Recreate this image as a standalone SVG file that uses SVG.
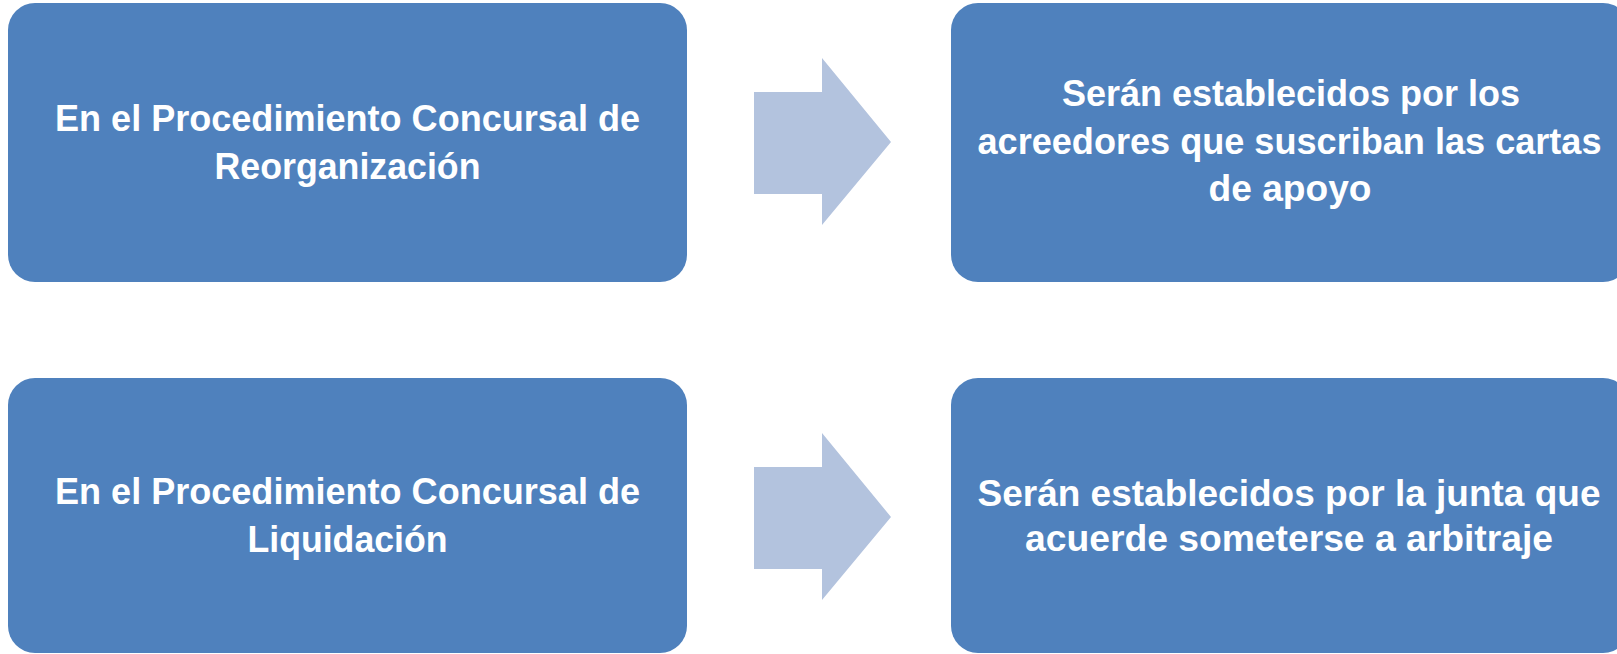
<svg xmlns="http://www.w3.org/2000/svg" width="1617" height="654" viewBox="0 0 1617 654">
<style>
.box{fill:#4F81BD}
.arrow{fill:#B3C3DE}
.t{font-family:"Liberation Sans",Arial,sans-serif;font-weight:bold;font-size:36px;fill:#FFFFFF;text-anchor:middle}
</style>
<rect width="1617" height="654" fill="#FFFFFF"/>
<g id="connectors">
<polygon class="arrow" points="754,92 822,92 822,58 891,142 822,225 822,194 754,194"/>
<polygon class="arrow" points="754,467 822,467 822,433 891,517 822,600 822,569 754,569"/>
</g>
<g id="node-reorganizacion">
<rect class="box" x="8" y="3" width="679" height="279" rx="27" ry="27"/>
<text class="t"><tspan x="347.5" y="131" textLength="585" lengthAdjust="spacingAndGlyphs">En el Procedimiento Concursal de</tspan><tspan x="347.5" y="178.5" textLength="266" lengthAdjust="spacingAndGlyphs">Reorganización</tspan></text>
</g>
<g id="node-cartas">
<rect class="box" x="951" y="3" width="679" height="279" rx="27" ry="27"/>
<text class="t"><tspan x="1291" y="106" textLength="458" lengthAdjust="spacingAndGlyphs">Serán establecidos por los</tspan><tspan x="1289.5" y="153.5" textLength="624" lengthAdjust="spacingAndGlyphs">acreedores que suscriban las cartas</tspan><tspan x="1290" y="201" textLength="163" lengthAdjust="spacingAndGlyphs">de apoyo</tspan></text>
</g>
<g id="node-liquidacion">
<rect class="box" x="8" y="378" width="679" height="275" rx="27" ry="27"/>
<text class="t"><tspan x="347.5" y="504" textLength="585" lengthAdjust="spacingAndGlyphs">En el Procedimiento Concursal de</tspan><tspan x="347.5" y="551.5" textLength="200" lengthAdjust="spacingAndGlyphs">Liquidación</tspan></text>
</g>
<g id="node-junta">
<rect class="box" x="951" y="378" width="679" height="275" rx="27" ry="27"/>
<text class="t"><tspan x="1289" y="506" textLength="623" lengthAdjust="spacingAndGlyphs">Serán establecidos por la junta que</tspan><tspan x="1289" y="551" textLength="528" lengthAdjust="spacingAndGlyphs">acuerde someterse a arbitraje</tspan></text>
</g>
</svg>
